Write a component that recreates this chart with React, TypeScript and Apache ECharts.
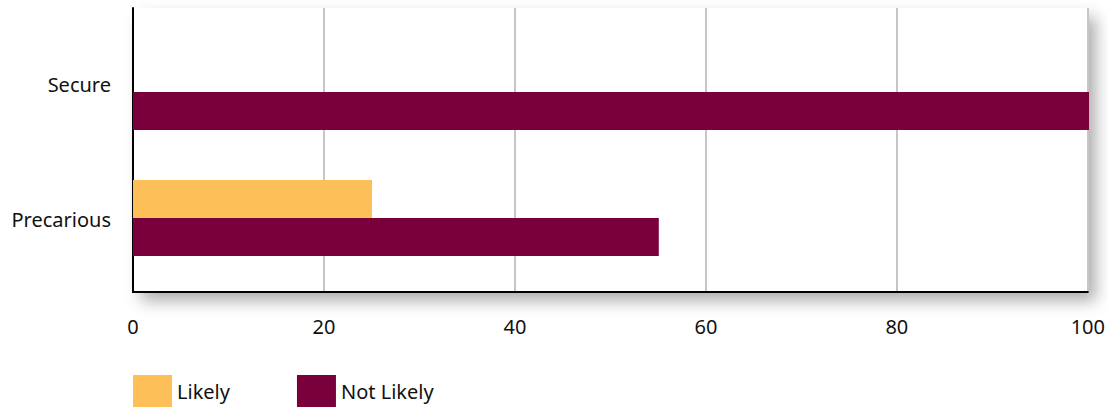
import React, { useEffect, useRef } from "react";
import * as echarts from "echarts";

const categories = ["Secure", "Precarious"];
const likely = [0, 25];
const notLikely = [100, 55];
const xTicks = [0, 20, 40, 60, 80, 100];

const FONT = "'Noto Sans', 'Open Sans', sans-serif";

export default function App() {
  const ref = useRef<HTMLDivElement>(null);
  useEffect(() => {
    if (!ref.current) return;
    const chart = echarts.init(ref.current, null, { renderer: "svg" });
    const xMin = xTicks[0];
    const xMax = xTicks[xTicks.length - 1];
    const interval = xTicks[1] - xTicks[0];
    chart.setOption({
      animation: false,
      textStyle: { fontFamily: FONT },
      legend: {
        left: 128,
        top: 370,
        itemWidth: 39,
        itemHeight: 32,
        itemGap: 67,
        icon: "rect",
        textStyle: { fontSize: 20, color: "#111", fontFamily: FONT },
        data: ["Likely", "Not Likely"],
      },
      grid: [
        {
          left: 133,
          right: 19,
          top: 8,
          bottom: 115,
          show: true,
          backgroundColor: "#fff",
          borderWidth: 0,
          shadowColor: "rgba(0,0,0,0.32)",
          shadowBlur: 16,
          shadowOffsetX: 8,
          shadowOffsetY: 9,
        },
        { left: 133, right: 19, top: 29, bottom: 126 },
      ],
      xAxis: [
        {
          gridIndex: 0,
          type: "value",
          min: xMin,
          max: xMax,
          interval,
          axisLine: { show: true, lineStyle: { color: "#000", width: 2 } },
          axisTick: { show: false },
          axisLabel: { fontSize: 20, color: "#111", margin: 24, fontFamily: FONT },
          splitLine: { show: true, lineStyle: { color: "#c6c6ca", width: 2 } },
        },
        {
          gridIndex: 1,
          type: "value",
          min: xMin,
          max: xMax,
          interval,
          show: false,
          splitLine: { show: false },
        },
      ],
      yAxis: [
        {
          gridIndex: 0,
          type: "category",
          inverse: true,
          data: categories,
          axisLine: { show: true, onZero: false, lineStyle: { color: "#000", width: 2 } },
          axisTick: { show: false },
          axisLabel: {
            fontSize: 20,
            color: "#111",
            margin: 22,
            fontFamily: FONT,
            formatter: (v: string, i: number) => (i === 0 ? `{s|${v}}` : `{p|${v}}`),
            rich: {
              s: { fontSize: 20, color: "#111", fontFamily: FONT, padding: [10, 0, 0, 0] },
              p: { fontSize: 20, color: "#111", fontFamily: FONT, padding: [0, 0, 4, 0] },
            },
          },
          splitLine: { show: false },
        },
        {
          gridIndex: 1,
          type: "category",
          inverse: true,
          data: categories,
          show: false,
        },
      ],
      series: [
        {
          name: "Likely",
          type: "bar",
          xAxisIndex: 1,
          yAxisIndex: 1,
          data: likely,
          barWidth: 38,
          barGap: "0%",
          itemStyle: { color: "#FDBF57" },
        },
        {
          name: "Not Likely",
          type: "bar",
          xAxisIndex: 1,
          yAxisIndex: 1,
          data: notLikely,
          barWidth: 38,
          barGap: "0%",
          itemStyle: { color: "#7A003C" },
        },
      ],
    });
    return () => chart.dispose();
  }, []);
  return <div ref={ref} style={{ width: 1108, height: 407, position: "absolute", left: 0, top: 0 }} />;
}
